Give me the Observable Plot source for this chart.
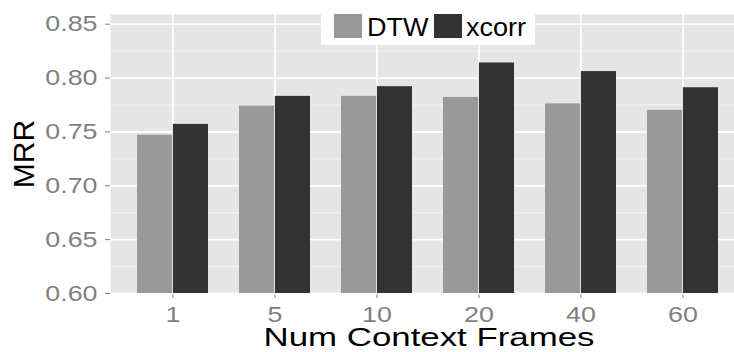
<!DOCTYPE html>
<html>
<head>
<meta charset="utf-8">
<script src="https://cdn.jsdelivr.net/npm/d3@7"></script>
<script src="https://cdn.jsdelivr.net/npm/@observablehq/plot@0.6"></script>
<style>
  html, body { margin: 0; padding: 0; background: white; overflow: hidden; }
  #wrap { position: relative; width: 734px; height: 352px; }
  #legend { position: absolute; left: 321px; top: 8px; }
</style>
</head>
<body>
<div id="wrap"></div>
<script>
// ---- data ----
const frames = ["1", "5", "10", "20", "40", "60"];
const dtw    = [0.747, 0.774, 0.783, 0.782, 0.776, 0.770];
const xcorr  = [0.757, 0.783, 0.792, 0.814, 0.806, 0.791];
const seriesNames = ["DTW", "xcorr"];
const seriesColors = ["#999999", "#333333"];
const yTicks = [0.60, 0.65, 0.70, 0.75, 0.80, 0.85];
const yMinor = [0.625, 0.675, 0.725, 0.775, 0.825];
const yMin = 0.60, yMax = 0.859;
const xTitle = "Num Context Frames";
const yTitle = "MRR";

const rows = frames.flatMap((f, i) => [
  {frames: f, series: seriesNames[0], value: dtw[i]},
  {frames: f, series: seriesNames[1], value: xcorr[i]}
]);

// ---- layout ----
const W = 734, H = 352, mL = 110, mR = 0, mT = 14, mB = 59;
const xRange = [mL, 746];           // panel continues past the right edge (cropped)
const pIn = 0.3, pOut = 0.25;
const step = (xRange[1] - xRange[0]) / (frames.length - pIn + 2 * pOut);
const half = step * (1 - pIn) / 2;
const FONT = "'Liberation Sans', Arial, Helvetica, sans-serif";

const chart = Plot.plot({
  width: W, height: H,
  marginLeft: mL, marginRight: mR, marginTop: mT, marginBottom: mB,
  style: {fontFamily: FONT, fontSize: "22px", background: "white", color: "#7f7f7f", overflow: "visible"},
  x: {domain: frames, range: xRange, paddingInner: pIn, paddingOuter: pOut,
      tickSize: 5, tickPadding: 8, label: null},
  y: {domain: [yMin, yMax], ticks: yTicks, tickFormat: d3.format(".2f"),
      tickSize: 5, tickPadding: 8, label: null},
  color: {domain: seriesNames, range: seriesColors},
  marks: [
    Plot.frame({fill: "#E5E5E5", stroke: "none"}),
    Plot.ruleY(yMinor, {stroke: "#F2F2F2", strokeWidth: 1}),
    Plot.ruleY(yTicks, {stroke: "white", strokeWidth: 1.8}),
    Plot.ruleX(frames, {x: d => d, stroke: "white", strokeWidth: 1.8}),
    Plot.barY(rows.filter(d => d.series === seriesNames[0]),
      {x: "frames", y1: () => yMin, y2: "value", fill: "series", insetRight: half}),
    Plot.barY(rows.filter(d => d.series === seriesNames[1]),
      {x: "frames", y1: () => yMin, y2: "value", fill: "series", insetLeft: half}),
    Plot.text([yTitle], {text: d => d, frameAnchor: "left", rotate: -90, dx: -86.5,
      textAnchor: "middle", lineAnchor: "middle", fontSize: 30, fill: "black"}),
    Plot.text([xTitle], {text: d => d, frameAnchor: "bottom", dx: 6.5, dy: 44.5,
      textAnchor: "middle", lineAnchor: "middle", fontSize: 26, fill: "black"})
  ]
});

document.getElementById("wrap").appendChild(chart);

// horizontal stretch of text about its anchor point (reference glyphs are wide)
function stretch(el, s) {
  const x = +el.getAttribute("x") || 0;
  const t = el.getAttribute("transform") || "";
  el.setAttribute("transform", `${t} translate(${x},0) scale(${s},1) translate(${-x},0)`);
}

const root = d3.select(chart);
root.selectAll('[aria-label^="x-axis"] text, [aria-label^="y-axis"] text')
  .style("font-size", "22px").attr("fill", "#7f7f7f")
  .each(function() { stretch(this, 1.22); });
root.selectAll('[aria-label^="x-axis"] line, [aria-label^="y-axis"] line, [aria-label^="x-axis"] path, [aria-label^="y-axis"] path')
  .attr("stroke", "#7f7f7f");
root.selectAll("text").filter(function() { return this.textContent === xTitle; })
  .each(function() { stretch(this, 1.34); });

// ---- legend (inside the panel, top centre) ----
const leg = d3.select("#wrap").append("svg")
  .attr("id", "legend").attr("width", 214).attr("height", 37)
  .style("font-family", FONT);
leg.append("rect").attr("width", 214).attr("height", 37).attr("fill", "white");
const keyX = [13, 113], textX = [46, 145];
seriesNames.forEach((name, i) => {
  leg.append("rect").attr("x", keyX[i]).attr("y", 6).attr("width", 28).attr("height", 24)
    .attr("fill", seriesColors[i]);
  leg.append("text").attr("transform", `translate(${textX[i]},28) scale(1.08,1)`)
    .attr("font-size", 25).attr("fill", "black").text(name);
});
</script>
</body>
</html>
